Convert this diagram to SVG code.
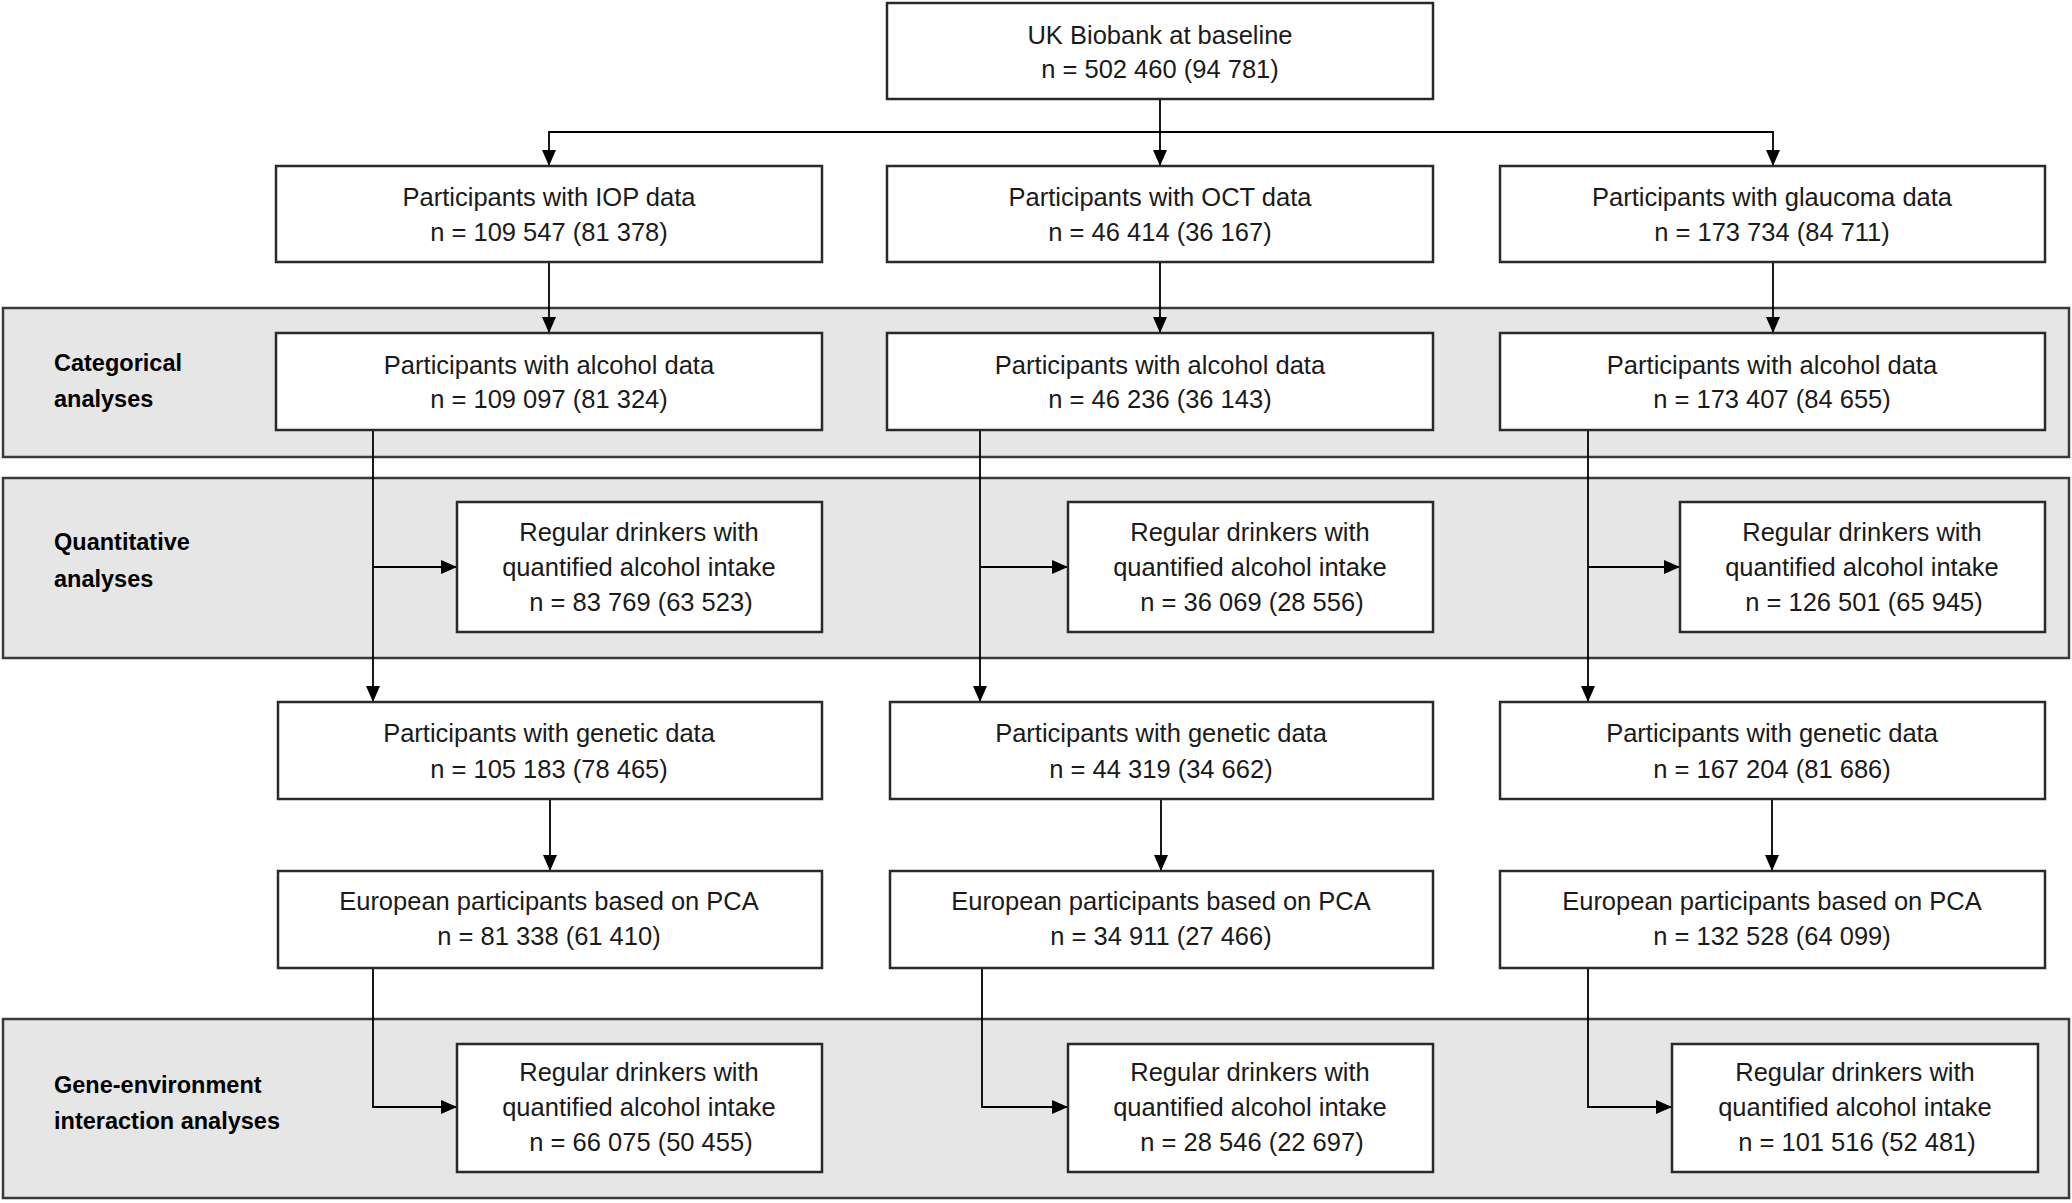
<svg xmlns="http://www.w3.org/2000/svg" width="2072" height="1203" viewBox="0 0 2072 1203">
<defs>
<marker id="arr" markerUnits="userSpaceOnUse" markerWidth="16" markerHeight="16" viewBox="0 0 16 16" refX="16" refY="8" orient="auto">
<path d="M0,1 L16,8 L0,15 Z" fill="#000"/>
</marker>
<style>
.band{fill:#e6e6e6;stroke:#3a3a3a;stroke-width:2.5}
.box{fill:#fff;stroke:#2a2a2a;stroke-width:2.5}
.t{font-family:"Liberation Sans",Arial,sans-serif;font-size:25.5px;fill:#1a1a1a;text-anchor:middle;dominant-baseline:central}
.lbl{font-family:"Liberation Sans",Arial,sans-serif;font-size:23.5px;font-weight:bold;fill:#000;dominant-baseline:central}
.c{fill:none;stroke:#000;stroke-width:1.8}
.ca{fill:none;stroke:#000;stroke-width:1.8;marker-end:url(#arr)}
</style>
</defs>
<rect width="2072" height="1203" fill="#fff"/>

<g id="band-categorical">
<rect class="band" x="3" y="308" width="2066" height="149"/>
<text class="lbl" x="54" y="363">Categorical</text>
<text class="lbl" x="54" y="399">analyses</text>
</g>
<g id="band-quantitative">
<rect class="band" x="3" y="478" width="2066" height="180"/>
<text class="lbl" x="54" y="542">Quantitative</text>
<text class="lbl" x="54" y="579">analyses</text>
</g>
<g id="band-gxe">
<rect class="band" x="3" y="1019" width="2066" height="179"/>
<text class="lbl" x="54" y="1085">Gene-environment</text>
<text class="lbl" x="54" y="1121">interaction analyses</text>
</g>

<g id="connectors">
<path class="ca" d="M1160,99 V166"/>
<path class="ca" d="M1160,132 H549 V166"/>
<path class="ca" d="M1160,132 H1773 V166"/>
<path class="ca" d="M549,262 V333"/>
<path class="ca" d="M1160,262 V333"/>
<path class="ca" d="M1773,262 V333"/>
<path class="ca" d="M373,430 V702"/>
<path class="ca" d="M373,567 H457"/>
<path class="ca" d="M980,430 V702"/>
<path class="ca" d="M980,567 H1068"/>
<path class="ca" d="M1588,430 V702"/>
<path class="ca" d="M1588,567 H1680"/>
<path class="ca" d="M550,799 V871"/>
<path class="ca" d="M1161,799 V871"/>
<path class="ca" d="M1772,799 V871"/>
<path class="ca" d="M373,968 V1107 H457"/>
<path class="ca" d="M982,968 V1107 H1068"/>
<path class="ca" d="M1588,968 V1107 H1672"/>
</g>

<g id="n-baseline">
<rect class="box" x="887" y="3" width="546" height="96"/>
<text class="t" x="1160" y="35">UK Biobank at baseline</text>
<text class="t" x="1160" y="69">n = 502 460 (94 781)</text>
</g>

<g id="n-iop">
<rect class="box" x="276" y="166" width="546" height="96"/>
<text class="t" x="549" y="197">Participants with IOP data</text>
<text class="t" x="549" y="232">n = 109 547 (81 378)</text>
</g>
<g id="n-oct">
<rect class="box" x="887" y="166" width="546" height="96"/>
<text class="t" x="1160" y="197">Participants with OCT data</text>
<text class="t" x="1160" y="232">n = 46 414 (36 167)</text>
</g>
<g id="n-glaucoma">
<rect class="box" x="1500" y="166" width="545" height="96"/>
<text class="t" x="1772" y="197">Participants with glaucoma data</text>
<text class="t" x="1772" y="232">n = 173 734 (84 711)</text>
</g>

<g id="n-alc1">
<rect class="box" x="276" y="333" width="546" height="97"/>
<text class="t" x="549" y="365">Participants with alcohol data</text>
<text class="t" x="549" y="399">n = 109 097 (81 324)</text>
</g>
<g id="n-alc2">
<rect class="box" x="887" y="333" width="546" height="97"/>
<text class="t" x="1160" y="365">Participants with alcohol data</text>
<text class="t" x="1160" y="399">n = 46 236 (36 143)</text>
</g>
<g id="n-alc3">
<rect class="box" x="1500" y="333" width="545" height="97"/>
<text class="t" x="1772" y="365">Participants with alcohol data</text>
<text class="t" x="1772" y="399">n = 173 407 (84 655)</text>
</g>

<g id="n-quant1">
<rect class="box" x="457" y="502" width="365" height="130"/>
<text class="t" x="639" y="532">Regular drinkers with</text>
<text class="t" x="639" y="567">quantified alcohol intake</text>
<text class="t" x="641" y="602">n = 83 769 (63 523)</text>
</g>
<g id="n-quant2">
<rect class="box" x="1068" y="502" width="365" height="130"/>
<text class="t" x="1250" y="532">Regular drinkers with</text>
<text class="t" x="1250" y="567">quantified alcohol intake</text>
<text class="t" x="1252" y="602">n = 36 069 (28 556)</text>
</g>
<g id="n-quant3">
<rect class="box" x="1680" y="502" width="365" height="130"/>
<text class="t" x="1862" y="532">Regular drinkers with</text>
<text class="t" x="1862" y="567">quantified alcohol intake</text>
<text class="t" x="1864" y="602">n = 126 501 (65 945)</text>
</g>

<g id="n-gen1">
<rect class="box" x="278" y="702" width="544" height="97"/>
<text class="t" x="549" y="733">Participants with genetic data</text>
<text class="t" x="549" y="769">n = 105 183 (78 465)</text>
</g>
<g id="n-gen2">
<rect class="box" x="890" y="702" width="543" height="97"/>
<text class="t" x="1161" y="733">Participants with genetic data</text>
<text class="t" x="1161" y="769">n = 44 319 (34 662)</text>
</g>
<g id="n-gen3">
<rect class="box" x="1500" y="702" width="545" height="97"/>
<text class="t" x="1772" y="733">Participants with genetic data</text>
<text class="t" x="1772" y="769">n = 167 204 (81 686)</text>
</g>

<g id="n-pca1">
<rect class="box" x="278" y="871" width="544" height="97"/>
<text class="t" x="549" y="901">European participants based on PCA</text>
<text class="t" x="549" y="936">n = 81 338 (61 410)</text>
</g>
<g id="n-pca2">
<rect class="box" x="890" y="871" width="543" height="97"/>
<text class="t" x="1161" y="901">European participants based on PCA</text>
<text class="t" x="1161" y="936">n = 34 911 (27 466)</text>
</g>
<g id="n-pca3">
<rect class="box" x="1500" y="871" width="545" height="97"/>
<text class="t" x="1772" y="901">European participants based on PCA</text>
<text class="t" x="1772" y="936">n = 132 528 (64 099)</text>
</g>

<g id="n-gxe1">
<rect class="box" x="457" y="1044" width="365" height="128"/>
<text class="t" x="639" y="1072">Regular drinkers with</text>
<text class="t" x="639" y="1107">quantified alcohol intake</text>
<text class="t" x="641" y="1142">n = 66 075 (50 455)</text>
</g>
<g id="n-gxe2">
<rect class="box" x="1068" y="1044" width="365" height="128"/>
<text class="t" x="1250" y="1072">Regular drinkers with</text>
<text class="t" x="1250" y="1107">quantified alcohol intake</text>
<text class="t" x="1252" y="1142">n = 28 546 (22 697)</text>
</g>
<g id="n-gxe3">
<rect class="box" x="1672" y="1044" width="366" height="128"/>
<text class="t" x="1855" y="1072">Regular drinkers with</text>
<text class="t" x="1855" y="1107">quantified alcohol intake</text>
<text class="t" x="1857" y="1142">n = 101 516 (52 481)</text>
</g>
</svg>
